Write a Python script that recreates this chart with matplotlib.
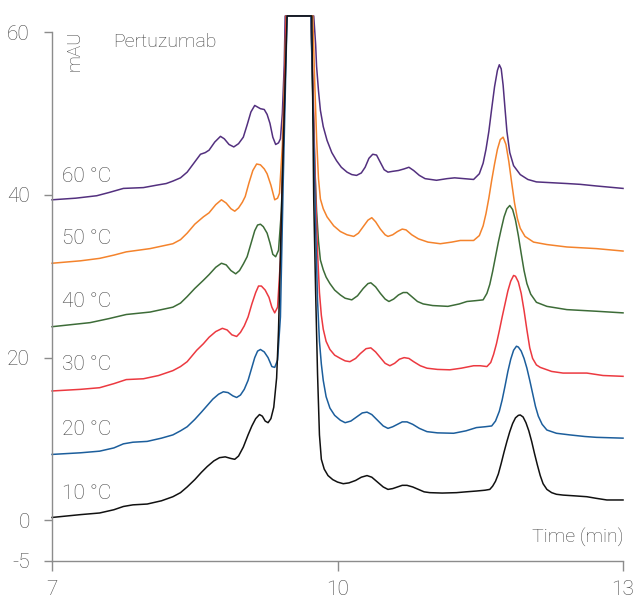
import matplotlib
matplotlib.use('Agg')
import matplotlib.pyplot as plt

plt.rcParams['font.family'] = ['Roboto', 'DejaVu Sans']
plt.rcParams['font.weight'] = 'light'

# chromatogram traces, offset per temperature (time in min, absorbance in mAU)
x_10 = [7.0, 7.3, 7.5, 7.65, 7.75, 7.85, 8.0, 8.15, 8.27, 8.35, 8.42, 8.50, 8.57, 8.63, 8.70, 8.76,
        8.82, 8.88, 8.92, 8.96, 9.01, 9.06, 9.10, 9.14, 9.18, 9.21, 9.24, 9.27, 9.30, 9.33, 9.36,
        9.38, 9.42, 9.47, 9.73, 9.75, 9.77, 9.79, 9.81, 9.83, 9.86, 9.90, 9.95, 10.00, 10.06, 10.12,
        10.19, 10.25, 10.31, 10.36, 10.42, 10.48, 10.53, 10.58, 10.63, 10.68, 10.73, 10.79, 10.85,
        10.91, 10.97, 11.10, 11.25, 11.35, 11.46, 11.55, 11.60, 11.63, 11.66, 11.69, 11.72, 11.75,
        11.78, 11.81, 11.84, 11.87, 11.90, 11.92, 11.95, 11.98, 12.01, 12.04, 12.07, 12.10, 12.13,
        12.16, 12.20, 12.25, 12.30, 12.37, 12.50, 12.62, 12.72, 12.83, 13.0]
y_10 = [0.35, 0.7, 0.9, 1.3, 1.7, 1.9, 2.0, 2.4, 2.9, 3.4, 4.1, 5.0, 5.9, 6.6, 7.3, 7.7,
        7.8, 7.6, 7.5, 7.9, 9.0, 10.5, 11.6, 12.5, 13.0, 12.8, 12.2, 12.0, 12.5, 13.9, 17.5,
        23.4, 42.0, 62.0, 62.0, 39.4, 28.0, 18.0, 10.5, 7.5, 6.3, 5.5, 5.0, 4.7, 4.5, 4.6,
        4.9, 5.3, 5.5, 5.3, 4.7, 4.1, 3.8, 3.9, 4.1, 4.3, 4.3, 4.1, 3.8,
        3.5, 3.4, 3.35, 3.4, 3.5, 3.6, 3.7, 3.8, 4.2, 4.8, 5.7, 7.0, 8.4,
        9.7, 10.9, 11.9, 12.6, 12.9, 12.95, 12.7, 12.0, 11.0, 9.7, 8.2, 6.8, 5.5,
        4.5, 3.8, 3.4, 3.2, 3.1, 3.0, 2.9, 2.7, 2.5, 2.5]

x_20 = [7.0, 7.3, 7.5, 7.65, 7.75, 7.85, 8.0, 8.15, 8.27, 8.35, 8.42, 8.50, 8.57, 8.63, 8.69, 8.75,
        8.80, 8.85, 8.90, 8.94, 8.98, 9.02, 9.06, 9.10, 9.13, 9.16, 9.19, 9.23, 9.27, 9.31, 9.34,
        9.37, 9.40, 9.43, 9.47, 9.72, 9.75, 9.77, 9.79, 9.81, 9.83, 9.85, 9.88, 9.92, 9.97, 10.03,
        10.08, 10.14, 10.20, 10.26, 10.31, 10.36, 10.42, 10.48, 10.53, 10.58, 10.63, 10.68, 10.73,
        10.79, 10.86, 10.94, 11.05, 11.22, 11.35, 11.46, 11.55, 11.62, 11.66, 11.70, 11.73, 11.76,
        11.79, 11.82, 11.85, 11.88, 11.90, 11.93, 11.96, 11.99, 12.02, 12.05, 12.08, 12.11, 12.15,
        12.20, 12.30, 12.44, 12.60, 12.72, 13.0]
y_20 = [8.1, 8.3, 8.5, 8.9, 9.4, 9.6, 9.7, 10.1, 10.5, 11.0, 11.5, 12.4, 13.3, 14.1, 14.9, 15.5,
        15.8, 15.7, 15.3, 15.1, 15.4, 16.1, 17.2, 18.8, 20.0, 20.8, 21.0, 20.7, 20.0, 18.9, 18.8,
        19.7, 25.0, 42.0, 62.0, 62.0, 48.0, 36.0, 27.0, 22.0, 19.2, 17.2, 15.2, 13.8, 12.9, 12.3,
        12.0, 12.2, 12.7, 13.2, 13.3, 13.0, 12.3, 11.6, 11.3, 11.5, 11.8, 12.1, 12.1,
        11.8, 11.3, 10.9, 10.75, 10.7, 11.0, 11.4, 11.5, 11.6, 12.2, 13.4, 14.8, 16.5,
        18.3, 19.8, 20.9, 21.4, 21.3, 20.8, 19.9, 18.7, 17.2, 15.6, 14.0, 12.8, 11.8,
        11.1, 10.7, 10.5, 10.3, 10.2, 10.1]

x_30 = [7.0, 7.3, 7.5, 7.65, 7.78, 7.96, 8.12, 8.27, 8.35, 8.42, 8.47, 8.52, 8.59, 8.65, 8.72, 8.79,
        8.84, 8.89, 8.94, 8.98, 9.02, 9.06, 9.10, 9.14, 9.17, 9.20, 9.24, 9.28, 9.31, 9.34, 9.37,
        9.40, 9.43, 9.46, 9.72, 9.75, 9.77, 9.79, 9.81, 9.83, 9.85, 9.88, 9.92, 9.97, 10.03, 10.08,
        10.13, 10.19, 10.24, 10.30, 10.35, 10.40, 10.45, 10.50, 10.55, 10.60, 10.65, 10.70, 10.75,
        10.80, 10.87, 10.94, 11.05, 11.18, 11.30, 11.43, 11.50, 11.57, 11.61, 11.64, 11.67, 11.70,
        11.73, 11.76, 11.79, 11.82, 11.85, 11.87, 11.90, 11.93, 11.96, 11.99, 12.02, 12.05, 12.09,
        12.13, 12.25, 12.37, 12.62, 12.79, 13.0]
y_30 = [15.9, 16.1, 16.3, 16.8, 17.3, 17.4, 17.8, 18.4, 18.9, 19.5, 20.2, 20.9, 21.7, 22.5, 23.2, 23.6,
        23.4, 22.8, 22.6, 23.1, 23.9, 25.0, 26.6, 28.0, 28.8, 28.8, 28.3, 27.4, 26.2, 25.5, 26.2,
        32.0, 46.0, 62.0, 62.0, 50.0, 40.0, 33.0, 28.0, 25.2, 23.5, 22.0, 21.0, 20.3, 19.9, 19.6,
        19.5, 19.9, 20.5, 21.1, 21.2, 20.7, 20.0, 19.3, 19.0, 19.3, 19.8, 20.0, 19.9,
        19.5, 19.0, 18.7, 18.55, 18.5, 18.7, 19.0, 19.0, 18.9, 19.4, 20.4, 21.7, 23.3,
        25.0, 26.6, 28.2, 29.4, 30.1, 30.0, 29.3, 27.9, 25.8, 23.4, 21.2, 19.9, 19.1,
        18.8, 18.3, 18.1, 18.1, 17.8, 17.7]

x_40 = [7.0, 7.4, 7.6, 7.78, 8.03, 8.15, 8.27, 8.35, 8.42, 8.50, 8.59, 8.65, 8.72, 8.78, 8.83, 8.88,
        8.93, 8.97, 9.01, 9.05, 9.09, 9.13, 9.16, 9.19, 9.22, 9.26, 9.29, 9.32, 9.35, 9.38, 9.41,
        9.43, 9.46, 9.72, 9.74, 9.76, 9.78, 9.80, 9.82, 9.85, 9.88, 9.92, 9.97, 10.03, 10.08, 10.15,
        10.21, 10.27, 10.32, 10.35, 10.40, 10.45, 10.50, 10.54, 10.59, 10.64, 10.69, 10.73, 10.78,
        10.84, 10.90, 11.00, 11.16, 11.28, 11.36, 11.45, 11.53, 11.57, 11.60, 11.63, 11.66, 11.69,
        11.72, 11.75, 11.78, 11.81, 11.84, 11.87, 11.90, 11.93, 11.96, 11.99, 12.03, 12.09, 12.20,
        12.41, 12.72, 13.0]
y_40 = [23.8, 24.3, 24.8, 25.3, 25.6, 25.9, 26.2, 26.7, 27.5, 28.5, 29.5, 30.2, 31.1, 31.6, 31.4, 30.7,
        30.3, 30.7, 31.5, 32.4, 34.0, 35.6, 36.3, 36.4, 36.1, 35.3, 34.1, 32.7, 32.4, 33.2, 38.0,
        46.0, 62.0, 62.0, 52.0, 44.0, 38.0, 34.3, 32.0, 30.8, 29.9, 29.1, 28.3, 27.7, 27.3, 27.1,
        27.6, 28.5, 29.1, 29.2, 28.7, 27.9, 27.2, 26.9, 27.2, 27.7, 28.0, 28.0, 27.5,
        26.9, 26.6, 26.4, 26.3, 26.6, 26.9, 27.0, 27.1, 27.9, 29.0, 30.6, 32.4, 34.2,
        35.8, 37.3, 38.3, 38.7, 38.2, 36.9, 35.0, 32.8, 30.7, 29.1, 27.8, 26.8, 26.3,
        25.9, 25.7, 25.5]

x_50 = [7.0, 7.3, 7.5, 7.65, 7.78, 8.03, 8.15, 8.27, 8.35, 8.42, 8.50, 8.59, 8.65, 8.72, 8.78, 8.83,
        8.88, 8.92, 8.96, 9.00, 9.03, 9.07, 9.11, 9.15, 9.19, 9.23, 9.26, 9.30, 9.34, 9.37, 9.39,
        9.42, 9.44, 9.46, 9.74, 9.76, 9.78, 9.80, 9.82, 9.85, 9.89, 9.96, 10.03, 10.10, 10.17, 10.22,
        10.27, 10.32, 10.36, 10.40, 10.45, 10.50, 10.53, 10.58, 10.63, 10.68, 10.72, 10.78, 10.85,
        10.95, 11.08, 11.20, 11.29, 11.43, 11.49, 11.53, 11.56, 11.59, 11.62, 11.65, 11.68, 11.71,
        11.74, 11.77, 11.80, 11.83, 11.86, 11.89, 11.92, 11.97, 12.06, 12.20, 12.41, 12.72, 13.0]
y_50 = [31.6, 31.9, 32.2, 32.6, 33.0, 33.4, 33.7, 34.0, 34.5, 35.3, 36.4, 37.3, 37.8, 38.8, 39.4, 39.0,
        38.3, 38.0, 38.4, 39.1, 39.8, 41.5, 43.0, 43.8, 43.7, 43.2, 42.6, 41.2, 39.4, 39.6, 40.2,
        46.0, 53.0, 62.0, 62.0, 54.0, 47.0, 42.0, 39.5, 38.3, 37.3, 36.2, 35.5, 35.1, 34.9, 35.3,
        36.1, 36.9, 37.2, 36.7, 35.8, 35.1, 34.9, 35.1, 35.5, 35.8, 35.7, 35.1, 34.6,
        34.2, 34.0, 34.2, 34.4, 34.4, 35.0, 36.2, 37.7, 39.6, 41.8, 43.8, 45.6, 46.8,
        47.1, 46.2, 44.1, 41.5, 39.0, 37.1, 35.9, 34.9, 34.2, 33.9, 33.6, 33.4, 33.1]

x_60 = [7.0, 7.25, 7.47, 7.6, 7.75, 7.96, 8.10, 8.20, 8.27, 8.35, 8.42, 8.49, 8.56, 8.61, 8.65, 8.71,
        8.77, 8.81, 8.86, 8.91, 8.96, 9.01, 9.05, 9.09, 9.13, 9.16, 9.19, 9.23, 9.26, 9.29, 9.32,
        9.35, 9.38, 9.40, 9.42, 9.44, 9.45, 9.75, 9.77, 9.78, 9.80, 9.82, 9.85, 9.89, 9.94, 9.99,
        10.04, 10.10, 10.15, 10.20, 10.25, 10.29, 10.33, 10.37, 10.41, 10.45, 10.49, 10.53, 10.58,
        10.64, 10.70, 10.75, 10.80, 10.86, 10.92, 11.04, 11.15, 11.23, 11.33, 11.43, 11.49, 11.53,
        11.56, 11.59, 11.62, 11.65, 11.68, 11.70, 11.72, 11.74, 11.76, 11.78, 11.81, 11.85, 11.92,
        12.00, 12.09, 12.25, 12.41, 12.55, 12.72, 13.0]
y_60 = [39.4, 39.6, 39.9, 40.3, 40.8, 40.9, 41.2, 41.4, 41.7, 42.1, 42.8, 43.9, 45.0, 45.2, 45.5, 46.5,
        47.2, 46.9, 46.2, 45.9, 46.3, 47.1, 48.6, 50.2, 51.0, 50.8, 50.6, 50.5, 49.9, 48.8, 47.1,
        46.2, 46.4, 46.9, 50.0, 56.0, 62.0, 62.0, 58.5, 55.8, 52.8, 50.4, 48.4, 46.7, 45.2, 44.2,
        43.4, 42.8, 42.5, 42.4, 42.7, 43.4, 44.5, 45.0, 44.9, 44.0, 43.1, 42.8, 42.9,
        43.0, 43.2, 43.4, 43.0, 42.4, 42.0, 41.8, 42.0, 42.1, 42.0, 41.9, 42.6, 43.9,
        45.6, 47.8, 50.6, 53.3, 55.3, 56.0, 55.5, 53.5, 50.6, 47.8, 45.2, 43.6, 42.5,
        41.9, 41.6, 41.5, 41.4, 41.3, 41.1, 40.8]

traces = [(x_10, y_10), (x_20, y_20), (x_30, y_30), (x_40, y_40), (x_50, y_50), (x_60, y_60)]
temp_labels = ['10 °C', '20 °C', '30 °C', '40 °C', '50 °C', '60 °C']
label_y = [3.3, 11.2, 19.2, 26.9, 34.6, 42.3]
colors = ['#111111', '#1c5e9c', '#ec3940', '#3d6c38', '#f4832c', '#53307f']

text_color = '#444444'
axis_color = '#8c8c8c'

fig = plt.figure(figsize=(6.36, 5.98), dpi=100)
ax = fig.add_axes([0.0818, 0.0619, 0.8978, 0.9155])

# draw from top trace down so black sits on top
for (xs, ys), c in reversed(list(zip(traces, colors))):
    ax.plot(xs, ys, color=c, lw=1.1, solid_joinstyle='round', clip_on=False)

for lab, yy in zip(temp_labels, label_y):
    ax.text(7.11, yy, lab, color=text_color, fontsize=15, va='center', ha='left')

ax.text(7.64, 58.8, 'Pertuzumab', color=text_color, fontsize=14, va='center', ha='left')
ax.text(7.24, 60.3, 'mAU', color=text_color, fontsize=13.5, rotation=90, va='top', ha='center')
ax.text(13.0, -2.1, 'Time (min)', color=text_color, fontsize=14, va='center', ha='right')

ax.set_xlim(7, 13)
ax.set_ylim(-5, 62.3)
ax.set_xticks([7, 10, 13])
ax.set_yticks([60, 40, 20, 0, -5])
ax.set_xticklabels(['7', '10', '13'])
ax.set_yticklabels(['60', '40', '20', '0', '-5'])

for s in ['top', 'right']:
    ax.spines[s].set_visible(False)
for s in ['left', 'bottom']:
    ax.spines[s].set_color(axis_color)
    ax.spines[s].set_linewidth(1.0)
ax.spines['left'].set_bounds(-5, 60)
ax.spines['bottom'].set_bounds(7, 13)

ax.tick_params(axis='y', direction='out', length=6, width=1.0, color=axis_color,
               labelcolor=text_color, labelsize=15, pad=10)
ax.tick_params(axis='x', direction='out', length=7, width=1.0, color=axis_color,
               labelcolor=text_color, labelsize=15, pad=7)

fig.savefig('out.png', dpi=100)
